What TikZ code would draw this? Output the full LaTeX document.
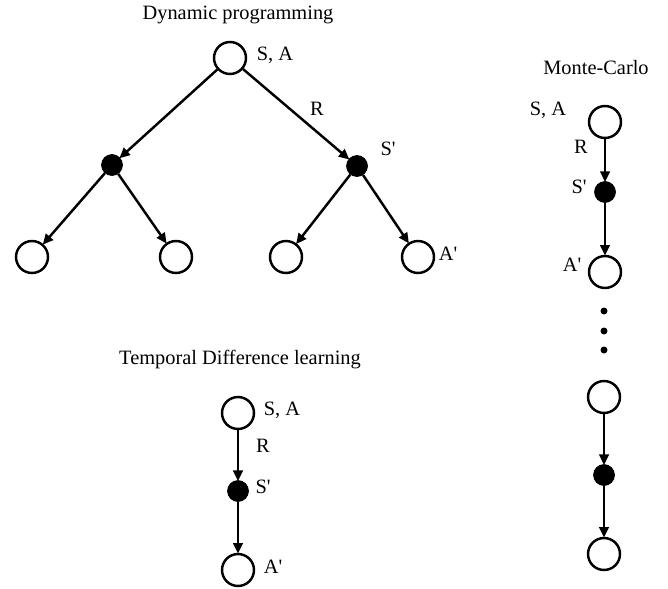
\documentclass[tikz,border=0pt]{standalone}
\usepackage{fontspec}
\setmainfont{Liberation Serif}
\usetikzlibrary{arrows.meta,positioning}
\newcommand{\pr}{\textquotesingle}

\begin{document}
\begin{tikzpicture}[
    x=0.02cm, y=-0.02cm,
    font=\fontsize{11.6}{14}\selectfont,
    statenode/.style={draw, circle, line width=1.4pt, minimum size=0.64cm, inner sep=0pt},
    actnode/.style={draw, circle, fill=black, minimum size=0.42cm, inner sep=0pt},
    smalldot/.style={circle, fill=black, minimum size=0.14cm, inner sep=0pt},
    arrow/.style={-{Triangle[length=6pt, width=5.4pt]}, line width=1.4pt, shorten >=-0.5pt},
    lbl/.style={inner sep=0pt}
]
\useasboundingbox (0,0) rectangle (668,588);

% Dynamic programming
\node[lbl] (dp-title) at (238,15) {Dynamic programming};
\node[statenode] (dp-root) at (230,58) {};
\node[actnode] (dp-a1) at (112,165) {};
\node[actnode] (dp-a2) at (357,166) {};
\node[statenode] (dp-s1) at (32,257) {};
\node[statenode] (dp-s2) at (176,257) {};
\node[statenode] (dp-s3) at (286,257) {};
\node[statenode] (dp-s4) at (418,257) {};
\node[lbl] at (275,55) {S, A};
\node[lbl] at (317,109) {R};
\node[lbl] at (388,149) {S\pr};
\node[lbl] at (448,254) {A\pr};
\draw[arrow] (dp-root) -- (dp-a1);
\draw[arrow] (dp-root) -- (dp-a2);
\draw[arrow] (dp-a1) -- (dp-s1);
\draw[arrow] (dp-a1) -- (dp-s2);
\draw[arrow] (dp-a2) -- (dp-s3);
\draw[arrow] (dp-a2) -- (dp-s4);

% Temporal Difference learning
\node[lbl] (td-title) at (240,360) {Temporal Difference learning};
\node[statenode] (td-s) at (238,413) {};
\node[actnode] (td-a) at (238,491) {};
\node[statenode] (td-s2) at (238,570) {};
\node[lbl] at (282,410) {S, A};
\node[lbl] at (263,446) {R};
\node[lbl] at (263,487) {S\pr};
\node[lbl] at (273,567) {A\pr};
\draw[arrow] (td-s) -- (td-a);
\draw[arrow] (td-a) -- (td-s2);

% Monte-Carlo
\node[lbl] (mc-title) at (596,68) {Monte-Carlo};
\node[statenode] (mc-s) at (605,122) {};
\node[actnode] (mc-a) at (605,192) {};
\node[statenode] (mc-s2) at (605,272) {};
\foreach \y in {311,331,350}
    \node[smalldot] at (604,\y) {};
\node[statenode] (mc-sn) at (604,397) {};
\node[actnode] (mc-an) at (604,475) {};
\node[statenode] (mc-st) at (604,554) {};
\node[lbl] at (548,110) {S, A};
\node[lbl] at (581,147) {R};
\node[lbl] at (579,187) {S\pr};
\node[lbl] at (572,265) {A\pr};
\draw[arrow] (mc-s) -- (mc-a);
\draw[arrow] (mc-a) -- (mc-s2);
\draw[arrow] (mc-sn) -- (mc-an);
\draw[arrow] (mc-an) -- (mc-st);
\end{tikzpicture}
\end{document}
